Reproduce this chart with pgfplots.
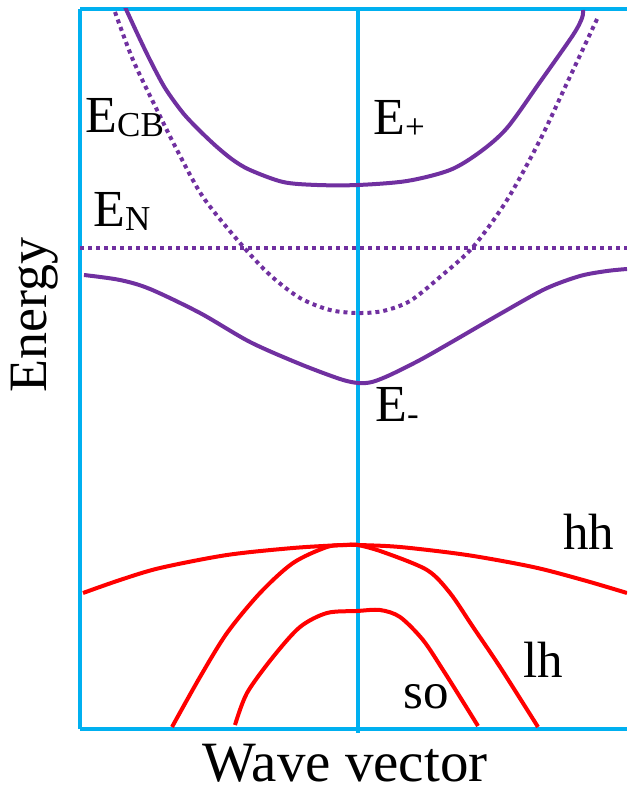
\documentclass[border=0pt]{standalone}
\usepackage{pgfplots}
\pgfplotsset{compat=1.18}
\usepackage{fontspec}
\setmainfont{Liberation Serif}

\definecolor{frameblue}{HTML}{00B0F0}
\definecolor{bandpurple}{HTML}{7030A0}
\definecolor{bandred}{HTML}{FF0000}

% label with a lowered, smaller subscript
\newcommand{\lab}[2]{{\fontsize{26bp}{26bp}\selectfont #1}{\fontsize{17.5bp}{17.5bp}\selectfont\raisebox{-2bp}{#2}}}

\begin{document}
\begin{tikzpicture}[x=1bp,y=1bp]
\begin{axis}[
  scale only axis,
  width=273.5bp, height=360bp,
  xmin=-278, xmax=269, ymin=63, ymax=783,
  axis x line=box, axis y line=left,
  axis line style={draw=frameblue, line width=2bp, -},
  y axis line style={-},
  xtick=\empty, ytick=\empty,
  clip mode=individual,
]
% overall picture extent
\path (axis cs:-358,0) (axis cs:269,792);

% Gamma point
\draw[frameblue, line width=2bp] (axis cs:0,59) -- (axis cs:0,783);

% unperturbed conduction band E_CB (dotted)
\addplot[bandpurple, line width=2bp, dash pattern=on 2bp off 2bp, smooth] coordinates {
(-243,780) (-225,732) (-201,682) (-181,642) (-155,595) (-118,549) (-88,517)
(-58,494) (-28,482) (0,479) (25,481) (52,491) (82,515) (115,545)
(149,592) (182,652) (209,709) (240,775)};

% localized level E_N
\addplot[bandpurple, line width=2bp, dash pattern=on 2bp off 2bp] coordinates {(-278,544) (269,544)};

% upper subband E+
\addplot[bandpurple, line width=2bp, smooth] coordinates {
(-233,785) (-221,759) (-208,732) (-193,704) (-175,679) (-158,661) (-141,645)
(-125,632) (-108,622) (-75,610) (-41,607) (0,607) (49,611) (92,622) (122,640)
(149,664) (182,710) (215,757) (224,774) (225,782)};

% lower subband E-
\addplot[bandpurple, line width=2bp, smooth] coordinates {
(-274,517) (-238,512) (-208,503) (-158,479) (-108,450) (-58,428) (-18,413)
(0,409) (14,410) (32,417) (62,432) (92,449) (142,478) (187,503) (222,516)
(249,521) (269,523)};

% heavy hole
\addplot[bandred, line width=2bp, smooth] coordinates {
(-275,199) (-238,212) (-198,224) (-131,237) (-65,244) (-15,247) (0,247)
(42,245) (109,237) (175,225) (225,212) (269,199)};

% light hole
\addplot[bandred, line width=2bp, smooth] coordinates {
(-186,65) (-158,115) (-131,159) (-98,199) (-65,229) (-31,245) (-11,247)
(0,247) (25,240) (69,222) (92,199) (115,165) (142,125) (180,65)};

% split-off band
\addplot[bandred, line width=2bp, smooth] coordinates {
(-123,67) (-111,99) (-85,135) (-58,165) (-31,179) (-1,181) (22,182)
(42,175) (65,152) (85,122) (102,95) (120,66)};

% band labels
\node[anchor=base west, inner sep=0] at (axis cs:-273,659) {\lab{E}{CB}};
\node[anchor=base west, inner sep=0] at (axis cs:-265,565) {\lab{E}{N}};
\node[anchor=base west, inner sep=0] at (axis cs:15,657) {\lab{E}{+}};
\node[anchor=base west, inner sep=0] at (axis cs:17,370) {\lab{E}{-}};
\node[anchor=base west, inner sep=0, font=\fontsize{25.5bp}{25.5bp}\selectfont] at (axis cs:205,242) {hh};
\node[anchor=base west, inner sep=0, font=\fontsize{25.5bp}{25.5bp}\selectfont] at (axis cs:165,115) {lh};
\node[anchor=base west, inner sep=0, font=\fontsize{25.5bp}{25.5bp}\selectfont] at (axis cs:45,84) {so};

% axis titles
\node[anchor=base, inner sep=0, font=\fontsize{28.5bp}{28.5bp}\selectfont] at (axis cs:-13,11) {Wave vector};
\node[anchor=base, rotate=90, inner sep=0, font=\fontsize{27bp}{27bp}\selectfont] at (axis cs:-311,477) {Energy};
\end{axis}
\end{tikzpicture}
\end{document}
